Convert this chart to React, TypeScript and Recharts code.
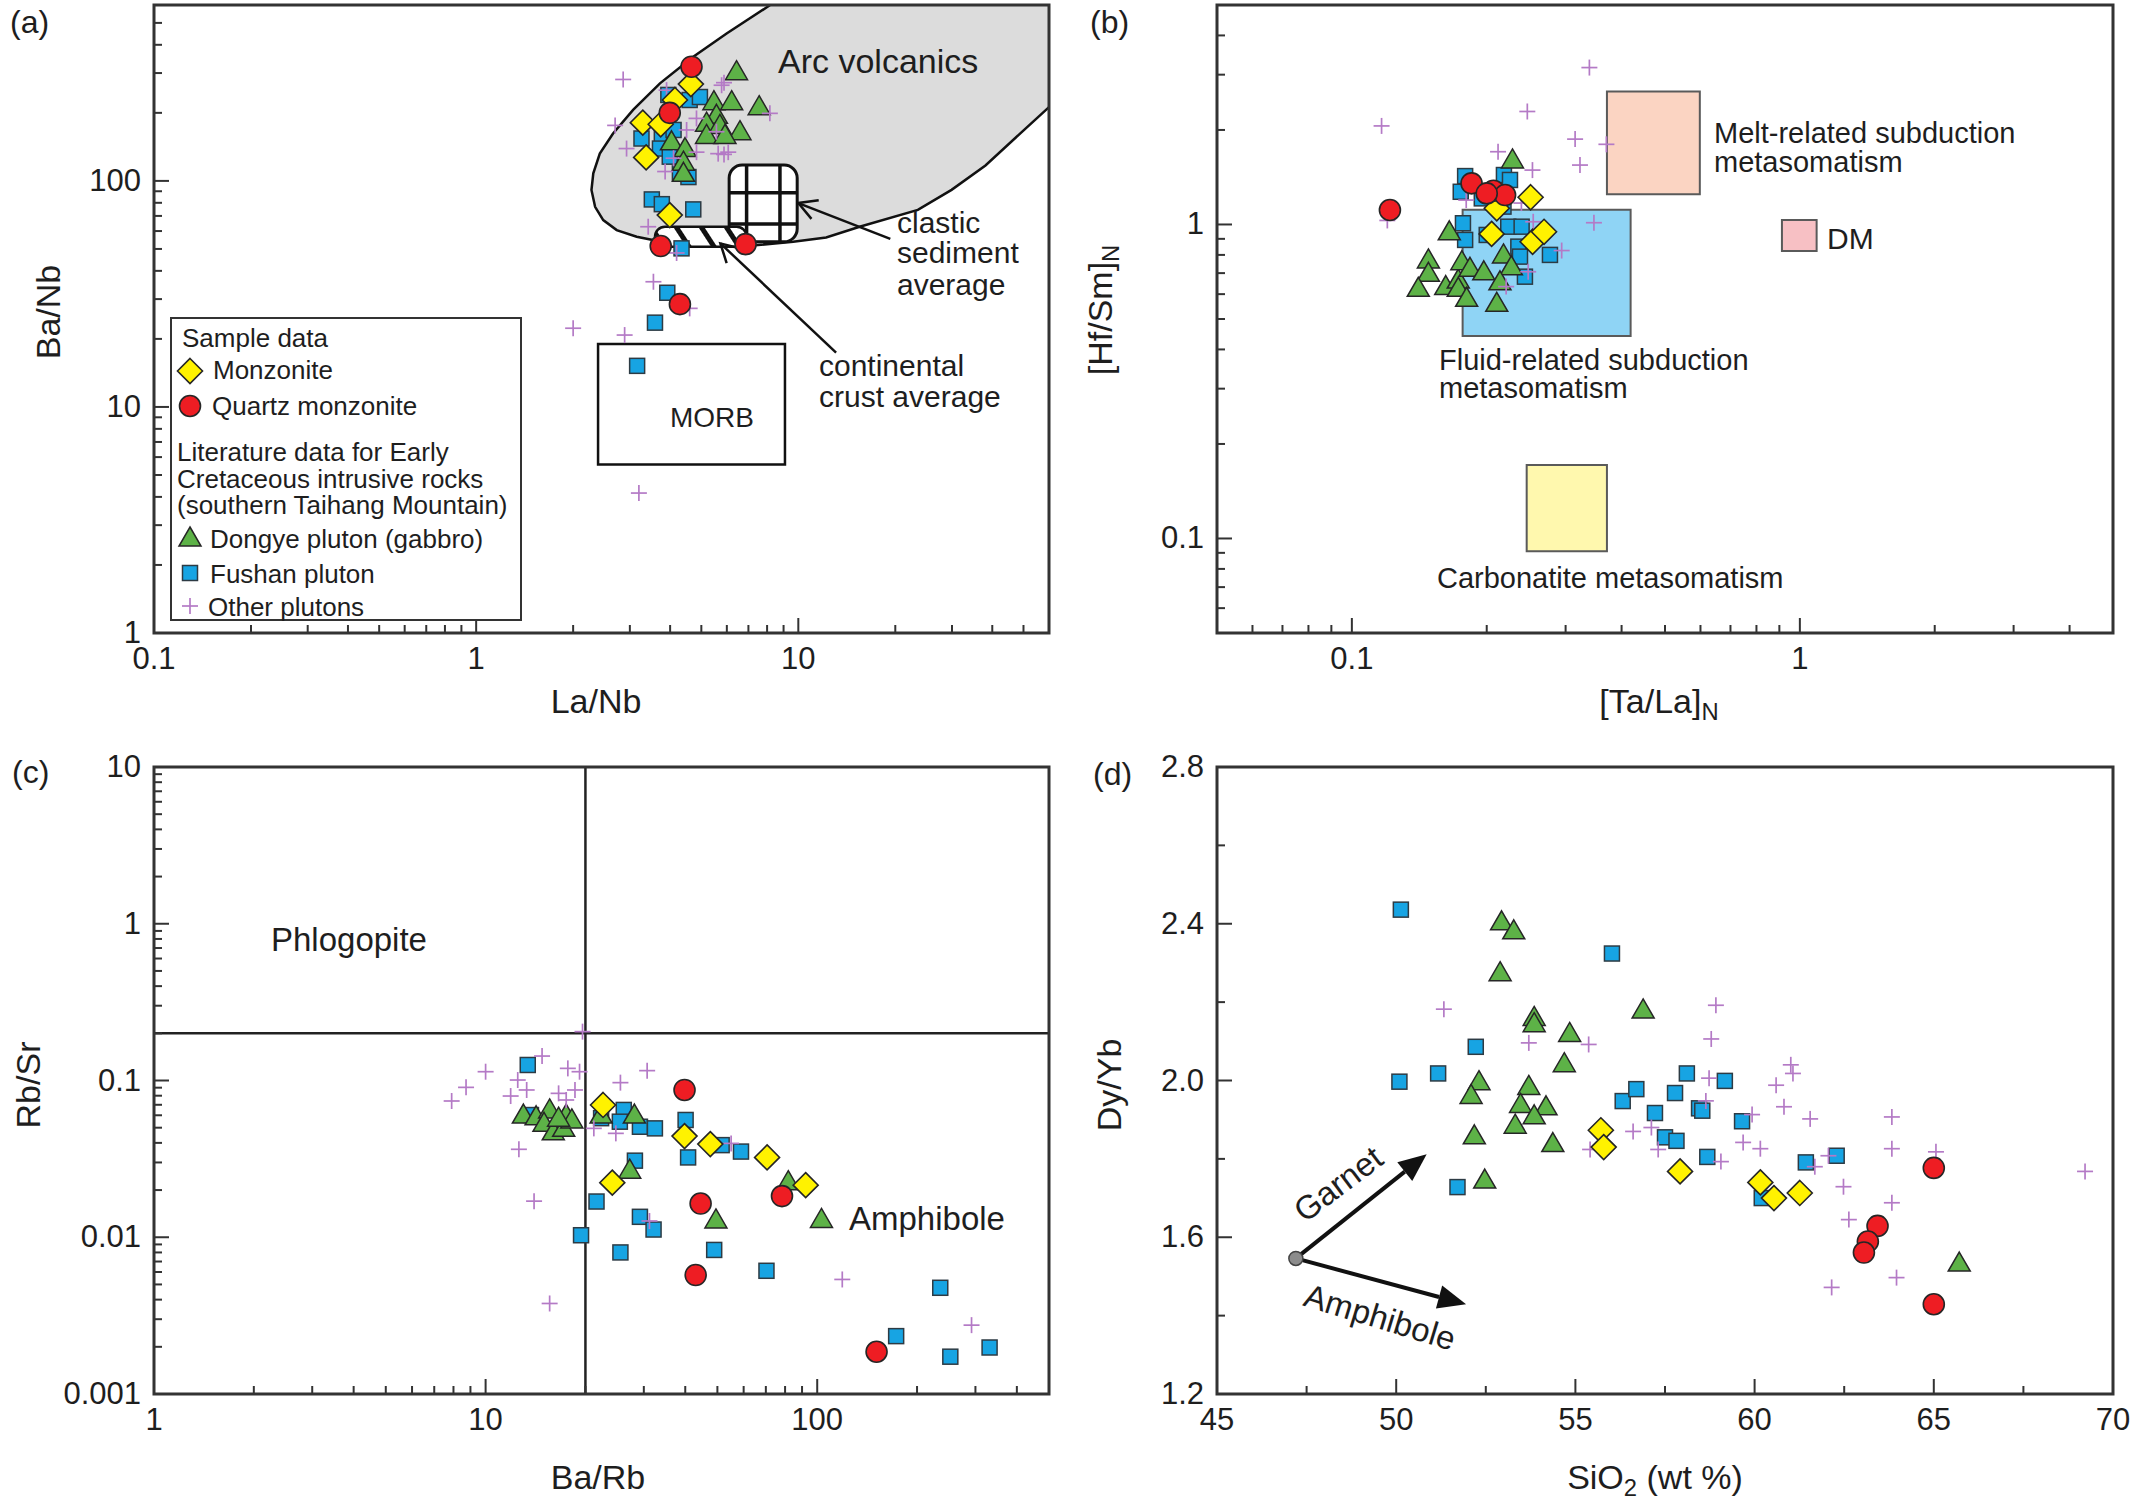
import React from 'react';
import { ScatterChart, Scatter, XAxis, YAxis, ReferenceArea, ReferenceLine, ReferenceDot } from 'recharts';

const FONT = '"Liberation Sans", Arial, Helvetica, sans-serif';
const INK = '#1e1e1e';
const FRAME = '#333333';

// ---------- (a) La/Nb vs Ba/Nb ----------
const aMonzonite = [[4.64, 268], [4.14, 228], [3.29, 181], [3.74, 178], [3.37, 127], [3.99, 70.6]];
const aQtzMonzonite = [[4.66, 320], [3.99, 200], [3.74, 51.5], [6.86, 52.5], [4.29, 28.5]];
const aDongye = [[6.43, 304], [5.47, 224], [6.21, 224], [7.56, 213], [5.57, 195], [5.19, 180], [5.71, 176], [6.59, 165], [5.19, 159], [5.92, 159], [4.04, 149], [4.45, 139], [4.4, 121], [4.4, 108]];
const aFushan = [[3.95, 240], [4.6, 228], [4.95, 235], [3.26, 154], [3.77, 157], [4.1, 168], [3.72, 139], [3.99, 128], [4.29, 108], [4.56, 104], [3.51, 82.8], [3.77, 78.9], [4.72, 74.8], [4.34, 50.3], [3.92, 32], [3.59, 23.6], [3.16, 15.2]];
const aOther = [[2.86, 281], [5.78, 265], [2.7, 176], [2.93, 139], [8.16, 199], [3.9, 252], [4.83, 189], [4.5, 168], [5.57, 165], [4.83, 134], [5.64, 132], [6.06, 134], [4.1, 126], [3.86, 110], [3.42, 62.7], [4.19, 48], [3.55, 35.8], [4.6, 27.3], [2.0, 22.3], [2.89, 20.8], [3.2, 4.16], [5.88, 272], [5.88, 131]];
// outline of the arc volcanics field (runs past the frame and is clipped)
const aArcField = [[15.1, 1660], [8.17, 599], [5.99, 449], [4.72, 354], [3.72, 270], [3.07, 206], [2.66, 162], [2.42, 132], [2.31, 108], [2.28, 91.1], [2.34, 76.8], [2.48, 67.1], [2.73, 60.6], [3.15, 56.6], [3.63, 54.3], [4.95, 52.0], [6.91, 51.5], [9.64, 53.8], [12.2, 56.2], [15.5, 62.7], [23.5, 74.4], [29.9, 91.3], [38.1, 117], [48.6, 161], [60, 212], [128.5, 502], [500, 5000]];
const aClastic = { x: [6.1, 9.92], y: [53.8, 117.5], gridX: [6.91, 8.77], gridY: [64.4, 88.6] };
const aCrust = { x: [3.59, 6.91], y: [51.1, 62.7] };
const aMorb = { x: [2.39, 9.09], y: [5.57, 19.0] };
const aArrows = [[[19.3, 55.4], [10.0, 79.8]], [[13.1, 17.4], [5.73, 52.9]]];
const aXTicks = [0.1, 0.2, 0.3, 0.4, 0.5, 0.6, 0.7, 0.8, 0.9, 1, 2, 3, 4, 5, 6, 7, 8, 9, 10, 20, 30, 40, 50];
const aYTicks = [1, 2, 3, 4, 5, 6, 7, 8, 9, 10, 20, 30, 40, 50, 60, 70, 80, 90, 100, 200, 300, 400, 500];
const aXMajor = [0.1, 1, 10];
const aYMajor = [1, 10, 100];

// ---------- (b) [Ta/La]N vs [Hf/Sm]N ----------
const bMonzonite = [[0.2506, 1.221], [0.2106, 1.126], [0.2051, 0.933], [0.2532, 0.881], [0.2685, 0.948]];
const bQtzMonzonite = [[0.1216, 1.112], [0.185, 1.352], [0.207, 1.281], [0.2198, 1.241], [0.2, 1.256]];
const bDongye = [[0.2283, 1.605], [0.165, 0.948], [0.1482, 0.771], [0.1482, 0.699], [0.1407, 0.626], [0.162, 0.634], [0.1728, 0.665], [0.176, 0.761], [0.1835, 0.725], [0.197, 0.707], [0.218, 0.8], [0.227, 0.733], [0.2141, 0.657], [0.2106, 0.561], [0.1728, 0.626], [0.1804, 0.582]];
const bFushan = [[0.179, 1.426], [0.175, 1.271], [0.195, 1.211], [0.2185, 1.437], [0.2254, 1.386], [0.177, 1.009], [0.179, 0.893], [0.2, 0.926], [0.2234, 0.984], [0.2393, 0.984], [0.2353, 0.85], [0.2373, 0.79], [0.2768, 0.8], [0.2434, 0.682], [0.218, 1.14]];
const bOther = [[0.1165, 2.06], [0.339, 3.16], [0.2464, 2.29], [0.315, 1.87], [0.37, 1.8], [0.323, 1.546], [0.212, 1.705], [0.253, 1.49], [0.347, 1.013], [0.294, 0.826], [0.2475, 0.707], [0.221, 0.634], [0.18, 1.196], [0.239, 1.17], [0.254, 1.02], [0.12, 1.03]];
const bMelt = { x: [0.371, 0.598], y: [1.248, 2.65] };
const bFluid = { x: [0.1767, 0.419], y: [0.441, 1.114] };
const bDM = { x: [0.912, 1.09], y: [0.824, 1.033] };
const bCarbonatite = { x: [0.2456, 0.371], y: [0.091, 0.1714] };
const bTicks = [0.06, 0.07, 0.08, 0.09, 0.1, 0.2, 0.3, 0.4, 0.5, 0.6, 0.7, 0.8, 0.9, 1, 2, 3, 4];
const bMajor = [0.1, 1];

// ---------- (c) Ba/Rb vs Rb/Sr ----------
const cMonzonite = [[22.6, 0.0698], [39.8, 0.0442], [47.6, 0.0393], [70.6, 0.0323], [92.3, 0.0215], [24.1, 0.0223]];
const cQtzMonzonite = [[39.8, 0.087], [44.5, 0.0164], [43, 0.00574], [78.3, 0.0183], [151, 0.00186]];
const cDongye = [[13.0, 0.0602], [14.2, 0.0587], [15.6, 0.0649], [15.0, 0.0533], [16.0, 0.0471], [17.5, 0.0602], [17.2, 0.0495], [18.2, 0.056], [16.6, 0.0575], [22.3, 0.0602], [28.1, 0.0602], [27.2, 0.0268], [49.5, 0.0129], [81.8, 0.0226], [103, 0.013]];
const cFushan = [[13.4, 0.1256], [13.7, 0.0602], [22.3, 0.0575], [26.1, 0.0649], [25.4, 0.0546], [29.2, 0.0507], [32.4, 0.0495], [40.1, 0.056], [40.8, 0.0323], [51.5, 0.0387], [58.9, 0.0352], [28.2, 0.0308], [21.6, 0.0169], [19.4, 0.0103], [29.2, 0.0135], [32.1, 0.0112], [25.5, 0.008], [48.9, 0.0083], [70.3, 0.00611], [235, 0.00476], [173, 0.00234], [252, 0.00173], [331, 0.00198]];
const cOther = [[8.73, 0.0904], [10.0, 0.1138], [11.9, 0.0796], [12.5, 0.1007], [13.3, 0.087], [14.8, 0.1432], [17.7, 0.1195], [19.2, 0.1138], [16.6, 0.0828], [18.6, 0.087], [17.5, 0.0751], [19.6, 0.205], [25.5, 0.0969], [30.7, 0.1156], [21.2, 0.0495], [24.7, 0.046], [12.6, 0.0364], [14.0, 0.017], [15.6, 0.00378], [31.2, 0.0127], [55.0, 0.0397], [119, 0.00538], [292, 0.00275], [7.9, 0.074]];
const cDivideX = 20;
const cDivideY = 0.2;
const cXTicks = [1, 2, 3, 4, 5, 6, 7, 8, 9, 10, 20, 30, 40, 50, 60, 70, 80, 90, 100, 200, 300, 400];
const cYTicks = [0.001, 0.002, 0.003, 0.004, 0.005, 0.006, 0.007, 0.008, 0.009, 0.01, 0.02, 0.03, 0.04, 0.05, 0.06, 0.07, 0.08, 0.09, 0.1, 0.2, 0.3, 0.4, 0.5, 0.6, 0.7, 0.8, 0.9, 1, 2, 3, 4, 5, 6, 7, 8, 9, 10];
const cXMajor = [1, 10, 100];
const cYMajor = [0.001, 0.01, 0.1, 1, 10];

// ---------- (d) SiO2 vs Dy/Yb ----------
const dMonzonite = [[55.71, 1.873], [55.79, 1.83], [57.92, 1.768], [60.16, 1.74], [60.54, 1.7], [61.26, 1.713]];
const dQtzMonzonite = [[65.0, 1.777], [63.43, 1.629], [63.16, 1.589], [63.05, 1.561], [65.0, 1.429]];
const dDongye = [[52.94, 2.405], [53.28, 2.382], [52.9, 2.275], [53.85, 2.161], [53.85, 2.145], [54.84, 2.12], [56.89, 2.18], [54.69, 2.043], [53.7, 1.985], [52.31, 1.997], [52.09, 1.962], [53.47, 1.939], [54.18, 1.933], [53.85, 1.91], [53.32, 1.886], [52.18, 1.859], [54.37, 1.839], [52.47, 1.746], [65.71, 1.534]];
const dFushan = [[50.13, 2.436], [50.09, 1.997], [51.17, 2.018], [52.22, 2.086], [51.71, 1.728], [56.02, 2.324], [56.32, 1.9475], [56.7, 1.978], [57.22, 1.917], [57.5, 1.855], [57.78, 1.968], [57.82, 1.846], [58.11, 2.018], [58.45, 1.929], [58.54, 1.923], [58.68, 1.805], [59.17, 1.999], [59.65, 1.896], [60.2, 1.7], [61.43, 1.791], [62.29, 1.808]];
const dOther = [[51.33, 2.182], [53.7, 2.096], [55.37, 2.092], [58.92, 2.192], [58.79, 2.106], [58.73, 2.006], [58.64, 1.948], [59.93, 1.913], [61.01, 2.04], [61.07, 2.018], [60.6, 1.988], [60.82, 1.933], [61.55, 1.902], [63.83, 1.907], [63.83, 1.826], [60.16, 1.826], [59.68, 1.842], [56.61, 1.87], [57.12, 1.88], [57.31, 1.824], [55.41, 1.824], [59.06, 1.793], [61.68, 1.78], [62.06, 1.808], [62.48, 1.729], [63.83, 1.688], [62.63, 1.645], [63.96, 1.497], [62.15, 1.472], [65.06, 1.818], [69.22, 1.768]];
const dOrigin = [47.2, 1.546];
const dGarnetEnd = [50.85, 1.812];
const dAmphiboleEnd = [51.95, 1.429];
const dXTicks = [45, 47.5, 50, 52.5, 55, 57.5, 60, 62.5, 65, 67.5, 70];
const dYTicks = [1.2, 1.4, 1.6, 1.8, 2.0, 2.2, 2.4, 2.6, 2.8];
const dXMajor = [45, 50, 55, 60, 65, 70];
const dYMajor = [1.2, 1.6, 2.0, 2.4, 2.8];

const pts = (arr: number[][]) => arr.map(([x, y]) => ({ x, y }));

// ---------- marker shapes ----------
const EDGE = '#262626';
const Diamond = ({ cx, cy }: any) => (
  <path d={`M${cx},${cy - 12.5}L${cx + 12.5},${cy}L${cx},${cy + 12.5}L${cx - 12.5},${cy}Z`} fill="#FFF200" stroke={EDGE} strokeWidth={1.6} />
);
const Dot = ({ cx, cy }: any) => <circle cx={cx} cy={cy} r={10.5} fill="#EE1D23" stroke={EDGE} strokeWidth={1.6} />;
const Tri = ({ cx, cy }: any) => (
  <path d={`M${cx},${cy - 11}L${cx + 11},${cy + 8}L${cx - 11},${cy + 8}Z`} fill="#5DB247" stroke={EDGE} strokeWidth={1.5} />
);
const Sq = ({ cx, cy }: any) => (
  <rect x={cx - 7.5} y={cy - 7.5} width={15} height={15} fill="#17A4E3" stroke="#2d3b44" strokeWidth={1.5} />
);
const Plus = ({ cx, cy }: any) => (
  <g stroke="#B47AC6" strokeWidth={1.7}>
    <line x1={cx - 8} x2={cx + 8} y1={cy} y2={cy} />
    <line x1={cx} x2={cx} y1={cy - 8} y2={cy + 8} />
  </g>
);
const Nothing = () => <g />;

// ---------- ticks ----------
const isIn = (list: number[], v: number) => list.some((m) => Math.abs(m - v) <= Math.abs(m) * 1e-6);

const xTick = (major: number[], fmt: (v: number) => string = String) => (p: any) => {
  const v = p.payload.value;
  const big = isIn(major, v);
  return (
    <g>
      <line x1={p.x} x2={p.x} y1={p.y} y2={p.y - (big ? 15 : 8)} stroke={FRAME} strokeWidth={2} />
      {big && (
        <text x={p.x} y={p.y + 36} textAnchor="middle" fontSize={31} fontFamily={FONT} fill={INK}>
          {fmt(v)}
        </text>
      )}
    </g>
  );
};

const yTick = (major: number[], fmt: (v: number) => string = String) => (p: any) => {
  const v = p.payload.value;
  const big = isIn(major, v);
  return (
    <g>
      <line x1={p.x} x2={p.x + (big ? 15 : 8)} y1={p.y} y2={p.y} stroke={FRAME} strokeWidth={2} />
      {big && (
        <text x={p.x - 13} y={p.y + 10} textAnchor="end" fontSize={31} fontFamily={FONT} fill={INK}>
          {fmt(v)}
        </text>
      )}
    </g>
  );
};

const arrowShape = (solid: boolean, sw: number, len: number, half: number) => (p: any) => {
  const { x1, y1, x2, y2 } = p;
  const a = Math.atan2(y2 - y1, x2 - x1);
  const bx = x2 - len * Math.cos(a);
  const by = y2 - len * Math.sin(a);
  const nx = -Math.sin(a) * half;
  const ny = Math.cos(a) * half;
  const head = `${bx + nx},${by + ny} ${x2},${y2} ${bx - nx},${by - ny}`;
  return (
    <g>
      <line x1={x1} y1={y1} x2={solid ? bx : x2} y2={solid ? by : y2} stroke="#111" strokeWidth={sw} />
      {solid ? <polygon points={head} fill="#111" /> : <polyline points={head} fill="none" stroke="#111" strokeWidth={sw} />}
    </g>
  );
};

const roundBox = (r: number, fill: string, sw: number, stroke = '#111') => (p: any) => (
  <rect x={p.x} y={p.y} width={p.width} height={p.height} rx={r} ry={r} fill={fill} stroke={stroke} strokeWidth={sw} />
);

// ---------- overlay text ----------
type TProps = { x: number; y: number; size?: number; center?: boolean; rotate?: number; children: React.ReactNode };
const T = ({ x, y, size = 30, center = false, rotate = 0, children }: TProps) => (
  <div
    style={{
      position: 'absolute',
      left: x,
      top: y,
      fontSize: size,
      lineHeight: 1,
      whiteSpace: 'nowrap',
      color: INK,
      transform: `translate(${center ? '-50%' : '0'}, -50%) rotate(${rotate}deg)`,
      transformOrigin: center ? 'center' : 'left center',
    }}
  >
    {children}
  </div>
);
const Sub = ({ children }: any) => <sub style={{ fontSize: '0.7em', verticalAlign: '-0.3em', lineHeight: 0 }}>{children}</sub>;
const Icon = ({ x, y, children }: any) => (
  <svg width={30} height={30} style={{ position: 'absolute', left: x - 15, top: y - 15, overflow: 'visible' }}>
    {children}
  </svg>
);

const frameProps = { fill: 'none', stroke: FRAME, strokeWidth: 3, ifOverflow: 'visible' as const };

function series(sets: { sq: number[][]; tri: number[][]; plus: number[][]; dia: number[][]; dot: number[][] }, z: number) {
  return [
    <Scatter key="sq" data={pts(sets.sq)} shape={Sq} isAnimationActive={false} zIndex={z} />,
    <Scatter key="tri" data={pts(sets.tri)} shape={Tri} isAnimationActive={false} zIndex={z + 1} />,
    <Scatter key="plus" data={pts(sets.plus)} shape={Plus} isAnimationActive={false} zIndex={z + 2} />,
    <Scatter key="dia" data={pts(sets.dia)} shape={Diamond} isAnimationActive={false} zIndex={z + 3} />,
    <Scatter key="dot" data={pts(sets.dot)} shape={Dot} isAnimationActive={false} zIndex={z + 4} />,
  ];
}

function PanelA() {
  const xd = [0.1, 60];
  const yd = [1, 600];
  return (
    <ScatterChart width={1066} height={740} margin={{ top: 5, right: 17, bottom: 0, left: 0 }}>
      <XAxis type="number" dataKey="x" scale="log" domain={xd} allowDataOverflow ticks={aXTicks} interval={0} height={107}
        axisLine={false} tickLine={false} tickSize={0} tickMargin={0} tick={xTick(aXMajor)} />
      <YAxis type="number" dataKey="y" scale="log" domain={yd} allowDataOverflow ticks={aYTicks} interval={0} width={154}
        axisLine={false} tickLine={false} tickSize={0} tickMargin={0} tick={yTick(aYMajor)} />
      <Scatter data={pts(aArcField)} shape={Nothing} fill="#DCDCDC" line={{ stroke: '#111', strokeWidth: 2.5, fill: '#DCDCDC' }}
        lineType="joint" lineJointType="linearClosed" isAnimationActive={false} zIndex={10} />
      <ReferenceArea x1={aClastic.x[0]} x2={aClastic.x[1]} y1={aClastic.y[0]} y2={aClastic.y[1]} shape={roundBox(13, '#fff', 3)} zIndex={20} />
      {aClastic.gridX.map((gx) => (
        <ReferenceLine key={'gx' + gx} segment={[{ x: gx, y: aClastic.y[0] }, { x: gx, y: aClastic.y[1] }]} stroke="#111" strokeWidth={3.5} zIndex={21} />
      ))}
      {aClastic.gridY.map((gy) => (
        <ReferenceLine key={'gy' + gy} segment={[{ x: aClastic.x[0], y: gy }, { x: aClastic.x[1], y: gy }]} stroke="#111" strokeWidth={3.5} zIndex={21} />
      ))}
      <ReferenceArea x1={aCrust.x[0]} x2={aCrust.x[1]} y1={aCrust.y[0]} y2={aCrust.y[1]} shape={roundBox(10, 'url(#crustHatch)', 2.5)} zIndex={22} />
      <ReferenceArea x1={aMorb.x[0]} x2={aMorb.x[1]} y1={aMorb.y[0]} y2={aMorb.y[1]} fill="#fff" fillOpacity={1} stroke="#111" strokeWidth={2.5} zIndex={22} />
      {aArrows.map((s, i) => (
        <ReferenceLine key={'ar' + i} segment={[{ x: s[0][0], y: s[0][1] }, { x: s[1][0], y: s[1][1] }]} shape={arrowShape(false, 2.5, 18, 10)} zIndex={23} />
      ))}
      {series({ sq: aFushan, tri: aDongye, plus: aOther, dia: aMonzonite, dot: aQtzMonzonite }, 30)}
      <ReferenceArea x1={xd[0]} x2={xd[1]} y1={yd[0]} y2={yd[1]} {...frameProps} zIndex={50} />
    </ScatterChart>
  );
}

function PanelB() {
  const d = [0.05, 5];
  const box = (b: { x: number[]; y: number[] }, fill: string, z: number) => (
    <ReferenceArea x1={b.x[0]} x2={b.x[1]} y1={b.y[0]} y2={b.y[1]} fill={fill} fillOpacity={1} stroke="#5a5a5a" strokeWidth={2} zIndex={z} />
  );
  return (
    <ScatterChart width={1067} height={740} margin={{ top: 5, right: 20, bottom: 0, left: 0 }}>
      <XAxis type="number" dataKey="x" scale="log" domain={d} allowDataOverflow ticks={bTicks} interval={0} height={107}
        axisLine={false} tickLine={false} tickSize={0} tickMargin={0} tick={xTick(bMajor)} />
      <YAxis type="number" dataKey="y" scale="log" domain={d} allowDataOverflow ticks={bTicks} interval={0} width={151}
        axisLine={false} tickLine={false} tickSize={0} tickMargin={0} tick={yTick(bMajor)} />
      {box(bMelt, '#FBD4C2', 10)}
      {box(bFluid, '#8FD4F5', 10)}
      {box(bDM, '#F7C0C4', 10)}
      {box(bCarbonatite, '#FFF8AE', 10)}
      {series({ sq: bFushan, tri: bDongye, plus: bOther, dia: bMonzonite, dot: bQtzMonzonite }, 30)}
      <ReferenceArea x1={d[0]} x2={d[1]} y1={d[0]} y2={d[1]} {...frameProps} zIndex={50} />
    </ScatterChart>
  );
}

function PanelC() {
  const xd = [1, 500];
  const yd = [0.001, 10];
  return (
    <ScatterChart width={1066} height={760} margin={{ top: 27, right: 17, bottom: 0, left: 0 }}>
      <XAxis type="number" dataKey="x" scale="log" domain={xd} allowDataOverflow ticks={cXTicks} interval={0} height={106}
        axisLine={false} tickLine={false} tickSize={0} tickMargin={0} tick={xTick(cXMajor)} />
      <YAxis type="number" dataKey="y" scale="log" domain={yd} allowDataOverflow ticks={cYTicks} interval={0} width={154}
        axisLine={false} tickLine={false} tickSize={0} tickMargin={0} tick={yTick(cYMajor)} />
      <ReferenceLine x={cDivideX} stroke="#222" strokeWidth={2.5} zIndex={10} />
      <ReferenceLine y={cDivideY} stroke="#222" strokeWidth={2.5} zIndex={10} />
      {series({ sq: cFushan, tri: cDongye, plus: cOther, dia: cMonzonite, dot: cQtzMonzonite }, 30)}
      <ReferenceArea x1={xd[0]} x2={xd[1]} y1={yd[0]} y2={yd[1]} {...frameProps} zIndex={50} />
    </ScatterChart>
  );
}

function PanelD() {
  const xd = [45, 70];
  const yd = [1.2, 2.8];
  return (
    <ScatterChart width={1067} height={760} margin={{ top: 27, right: 20, bottom: 0, left: 0 }}>
      <XAxis type="number" dataKey="x" domain={xd} allowDataOverflow ticks={dXTicks} interval={0} height={106}
        axisLine={false} tickLine={false} tickSize={0} tickMargin={0} tick={xTick(dXMajor)} />
      <YAxis type="number" dataKey="y" domain={yd} allowDataOverflow ticks={dYTicks} interval={0} width={151}
        axisLine={false} tickLine={false} tickSize={0} tickMargin={0} tick={yTick(dYMajor, (v) => v.toFixed(1))} />
      <ReferenceLine segment={[{ x: dOrigin[0], y: dOrigin[1] }, { x: dGarnetEnd[0], y: dGarnetEnd[1] }]} shape={arrowShape(true, 4, 28, 12)} zIndex={10} />
      <ReferenceLine segment={[{ x: dOrigin[0], y: dOrigin[1] }, { x: dAmphiboleEnd[0], y: dAmphiboleEnd[1] }]} shape={arrowShape(true, 4, 28, 12)} zIndex={10} />
      <ReferenceDot x={dOrigin[0]} y={dOrigin[1]} r={7} fill="#8c8c8c" stroke="#444" strokeWidth={1.5} zIndex={11} />
      {series({ sq: dFushan, tri: dDongye, plus: dOther, dia: dMonzonite, dot: dQtzMonzonite }, 30)}
      <ReferenceArea x1={xd[0]} x2={xd[1]} y1={yd[0]} y2={yd[1]} {...frameProps} zIndex={50} />
    </ScatterChart>
  );
}

export default function App() {
  const place = (left: number, top: number): React.CSSProperties => ({ position: 'absolute', left, top });
  return (
    <div style={{ position: 'absolute', left: 0, top: 0, width: 2133, height: 1500, background: '#fff', fontFamily: FONT, overflow: 'hidden' }}>
      <svg width={0} height={0} style={{ position: 'absolute' }}>
        <defs>
          <pattern id="crustHatch" patternUnits="userSpaceOnUse" width={21} height={21} patternTransform="rotate(-33)">
            <rect width={21} height={21} fill="#fff" />
            <rect x={0} y={0} width={5} height={21} fill="#111" />
          </pattern>
        </defs>
      </svg>

      <div style={place(0, 0)}><PanelA /></div>
      <div style={place(1066, 0)}><PanelB /></div>
      <div style={place(0, 740)}><PanelC /></div>
      <div style={place(1066, 740)}><PanelD /></div>

      {/* panel letters */}
      <T x={10} y={22} size={32}>(a)</T>
      <T x={1090} y={22} size={32}>(b)</T>
      <T x={12} y={772} size={32}>(c)</T>
      <T x={1093} y={774} size={32}>(d)</T>

      {/* axis titles */}
      <T x={48} y={312} size={34} center rotate={-90}>Ba/Nb</T>
      <T x={596} y={701} size={34} center>La/Nb</T>
      <T x={1100} y={310} size={34} center rotate={-90}>[Hf/Sm]<Sub>N</Sub></T>
      <T x={1659} y={701} size={34} center>[Ta/La]<Sub>N</Sub></T>
      <T x={28} y={1085} size={34} center rotate={-90}>Rb/Sr</T>
      <T x={598} y={1477} size={34} center>Ba/Rb</T>
      <T x={1109} y={1085} size={34} center rotate={-90}>Dy/Yb</T>
      <T x={1655} y={1477} size={34} center>SiO<Sub>2</Sub> (wt %)</T>

      {/* (a) annotations */}
      <T x={778} y={61} size={34}>Arc volcanics</T>
      <T x={897} y={223}>clastic</T>
      <T x={897} y={253}>sediment</T>
      <T x={897} y={285}>average</T>
      <T x={819} y={366}>continental</T>
      <T x={819} y={397}>crust average</T>
      <T x={670} y={418} size={28}>MORB</T>

      {/* (a) legend */}
      <div style={{ position: 'absolute', left: 170, top: 317, width: 352, height: 304, border: '2px solid #333', background: '#fff', boxSizing: 'border-box' }} />
      <T x={182} y={338} size={26}>Sample data</T>
      <Icon x={190} y={371}><Diamond cx={15} cy={15} /></Icon>
      <T x={213} y={370} size={26}>Monzonite</T>
      <Icon x={190} y={406}><Dot cx={15} cy={15} /></Icon>
      <T x={212} y={406} size={26}>Quartz monzonite</T>
      <T x={177} y={452} size={26}>Literature data for Early</T>
      <T x={177} y={479} size={26}>Cretaceous intrusive rocks</T>
      <T x={177} y={505} size={26}>(southern Taihang Mountain)</T>
      <Icon x={190} y={538}><Tri cx={15} cy={15} /></Icon>
      <T x={210} y={539} size={26}>Dongye pluton (gabbro)</T>
      <Icon x={190} y={573}><Sq cx={15} cy={15} /></Icon>
      <T x={210} y={574} size={26}>Fushan pluton</T>
      <Icon x={190} y={606}><Plus cx={15} cy={15} /></Icon>
      <T x={208} y={607} size={26}>Other plutons</T>

      {/* (b) annotations */}
      <T x={1714} y={133} size={29}>Melt-related subduction</T>
      <T x={1714} y={162} size={29}>metasomatism</T>
      <T x={1827} y={239} size={30}>DM</T>
      <T x={1439} y={360} size={29}>Fluid-related subduction</T>
      <T x={1439} y={388} size={29}>metasomatism</T>
      <T x={1437} y={578} size={29}>Carbonatite metasomatism</T>

      {/* (c) annotations */}
      <T x={271} y={939} size={33}>Phlogopite</T>
      <T x={849} y={1218} size={33}>Amphibole</T>

      {/* (d) annotations */}
      <T x={1338} y={1184} size={33} center rotate={-37}>Garnet</T>
      <T x={1380} y={1317} size={33} center rotate={17}>Amphibole</T>
    </div>
  );
}
